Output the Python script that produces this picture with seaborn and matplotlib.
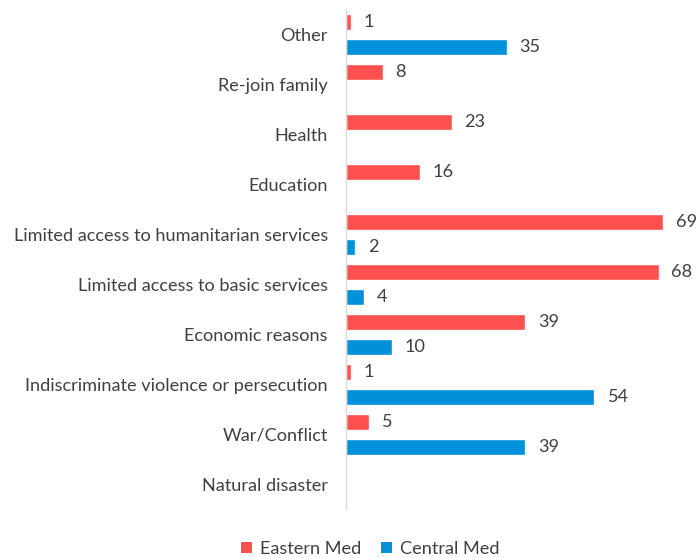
import matplotlib
matplotlib.use("Agg")
import matplotlib.pyplot as plt
import seaborn as sns
import pandas as pd
from matplotlib.patches import Patch

categories = [
    "Other",
    "Re-join family",
    "Health",
    "Education",
    "Limited access to humanitarian services",
    "Limited access to basic services",
    "Economic reasons",
    "Indiscriminate violence or persecution",
    "War/Conflict",
    "Natural disaster",
]
eastern_med = [1, 8, 23, 16, 69, 68, 39, 1, 5, 0]
central_med = [35, 0, 0, 0, 2, 4, 10, 54, 39, 0]
series_names = ["Eastern Med", "Central Med"]
colors = ["#FF5050", "#0091DA"]

df = pd.DataFrame({
    "reason": categories * 2,
    "route": [series_names[0]] * len(categories) + [series_names[1]] * len(categories),
    "value": eastern_med + central_med,
})

sns.set_theme(style="white")
plt.rcParams["font.family"] = ["Lato", "DejaVu Sans"]
text_color = "#404040"
fs = 13.1

fig = plt.figure(figsize=(6.96, 5.58), dpi=100)
ax = fig.add_axes([346 / 696, 1 - 509 / 558, 345 / 696, 499 / 558])

sns.barplot(
    data=df, y="reason", x="value", hue="route",
    order=categories, hue_order=series_names,
    palette=colors, width=1.0, gap=0.36, saturation=1,
    orient="h", ax=ax, legend=False,
)

ax.set_xlim(0, 75)
ax.set_xlabel("")
ax.set_ylabel("")
ax.set_xticks([])
for s in ["top", "right", "bottom"]:
    ax.spines[s].set_visible(False)
ax.spines["left"].set_color("#D9D9D9")
ax.spines["left"].set_linewidth(1.0)
ax.tick_params(axis="y", length=0, pad=13, labelsize=fs, labelcolor=text_color)

for container in ax.containers:
    labels = [f"{v:g}" if v > 0 else "" for v in container.datavalues]
    ax.bar_label(container, labels=labels, padding=9, fontsize=fs,
                 color=text_color, clip_on=False)

handles = [Patch(facecolor=c, edgecolor="none", label=n) for c, n in zip(colors, series_names)]
fig.legend(handles=handles, loc="center", bbox_to_anchor=(0.532, 1 - 549 / 558),
           ncol=2, frameon=False, fontsize=fs, handlelength=0.6, handleheight=0.6,
           handletextpad=0.45, columnspacing=1.05, labelcolor=text_color)

fig.savefig("out.png", dpi=100)
